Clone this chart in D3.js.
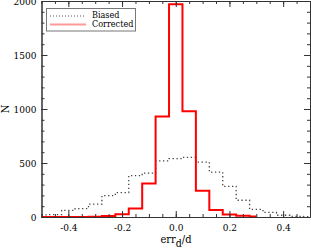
<!DOCTYPE html>
<html>
<head>
<meta charset="utf-8">
<script src="https://cdn.jsdelivr.net/npm/d3@7"></script>
<style>
  body { margin: 0; background: #fff; }
  text { font-family: "DejaVu Serif Condensed", "DejaVu Serif", serif !important; font-stretch: condensed; }
</style>
</head>
<body>
<svg id="chart" width="311" height="248"></svg>
<script>
// bin centres (width 0.05) and counts
var binsBiased = [-0.5, -0.45, -0.4, -0.35, -0.3, -0.25, -0.2, -0.15, -0.1, -0.05, 0.0,
                  0.05, 0.1, 0.15, 0.2, 0.25, 0.3, 0.35, 0.4, 0.45, 0.5];
var countsBiased = [20, 22, 62, 78, 120, 198, 226, 383, 407, 520, 540,
                    552, 508, 415, 284, 155, 70, 42, 16, 5, 3];

var binsCorrected = [-0.5, -0.45, -0.4, -0.35, -0.3, -0.25, -0.2, -0.15, -0.1, -0.05, 0.0,
                     0.05, 0.1, 0.15, 0.2, 0.25, 0.3];
var countsCorrected = [0, 0, 0, 0, 2, 10, 25, 78, 310, 930, 1970,
                       980, 242, 64, 22, 12, 4];

var xMajor = [-0.4, -0.2, 0.0, 0.2, 0.4];
var yMajor = [0, 500, 1000, 1500, 2000];

var svg = d3.select("#chart");

var x = d3.scaleLinear().domain([-0.5, 0.5]).range([41.5, 310]),
    y = d3.scaleLinear().domain([0, 2000]).range([217, 1]);

var xMinor = d3.range(-0.5, 0.501, 0.05).map(d => +d.toFixed(2));
var yMinor = d3.range(0, 2001, 100);

// histograms as steps through the bin centres
var line = d3.line().curve(d3.curveStep).x(d => x(d[0])).y(d => y(d[1]));

svg.append("path")
  .datum(d3.zip(binsBiased, countsBiased))
  .attr("d", line)
  .attr("fill", "none").attr("stroke", "#444")
  .attr("stroke-width", 1.3).attr("stroke-dasharray", "1.3,2.6");

svg.append("path")
  .datum(d3.zip(binsCorrected, countsCorrected))
  .attr("d", line)
  .attr("fill", "none").attr("stroke", "#f00")
  .attr("stroke-width", 2);

// frame with inward ticks
function ticks(axis, vals, size, g) {
  g.call(axis.tickValues(vals).tickSize(size).tickSizeOuter(0));
}

var gb = svg.append("g").attr("transform", "translate(0,217)");
ticks(d3.axisBottom(x).tickFormat(""), xMinor, -3, gb);
var gb2 = svg.append("g").attr("transform", "translate(0,217)");
ticks(d3.axisBottom(x).tickFormat(d => d.toFixed(1)).tickPadding(7), xMajor, -6, gb2);

var gt = svg.append("g").attr("transform", "translate(0,1)");
ticks(d3.axisTop(x).tickFormat(""), xMinor, -3, gt);
var gt2 = svg.append("g").attr("transform", "translate(0,1)");
ticks(d3.axisTop(x).tickFormat(""), xMajor, -6, gt2);

var gl = svg.append("g").attr("transform", "translate(41.5,0)");
ticks(d3.axisLeft(y).tickFormat(""), yMinor, -3, gl);
var gl2 = svg.append("g").attr("transform", "translate(41.5,0)");
ticks(d3.axisLeft(y).tickFormat(d => d).tickPadding(5), yMajor, -6, gl2);

var gr = svg.append("g").attr("transform", "translate(310,0)");
ticks(d3.axisRight(y).tickFormat(""), yMinor, -3, gr);
var gr2 = svg.append("g").attr("transform", "translate(310,0)");
ticks(d3.axisRight(y).tickFormat(""), yMajor, -6, gr2);

svg.selectAll(".domain").attr("stroke", "#333");
svg.selectAll(".tick line").attr("stroke", "#333");
svg.selectAll(".tick text").attr("font-size", 10).attr("fill", "#000");

// axis titles
svg.append("text").attr("transform", "translate(9,109) rotate(-90)")
  .attr("text-anchor", "middle").attr("font-size", 11).text("N");

var xl = svg.append("text").attr("x", 176).attr("y", 243)
  .attr("text-anchor", "middle").attr("font-size", 11);
xl.append("tspan").text("err");
xl.append("tspan").attr("dy", 4).attr("font-size", 10.5).text("d");
xl.append("tspan").attr("dy", -4).text("/d");

// legend
svg.append("rect").attr("x", 46.5).attr("y", 8.5).attr("width", 89).attr("height", 22.5)
  .attr("fill", "#fff").attr("stroke", "#777").attr("stroke-width", 1);

svg.append("line").attr("x1", 50).attr("x2", 86).attr("y1", 16).attr("y2", 16)
  .attr("stroke", "#555").attr("stroke-width", 1).attr("stroke-dasharray", "1,2");
svg.append("line").attr("x1", 50).attr("x2", 86).attr("y1", 24.5).attr("y2", 24.5)
  .attr("stroke", "#ff9a9a").attr("stroke-width", 2);

svg.append("text").attr("x", 92).attr("y", 18).attr("font-size", 9).text("Biased");
svg.append("text").attr("x", 92).attr("y", 27).attr("font-size", 9).text("Corrected");
</script>
</body>
</html>
